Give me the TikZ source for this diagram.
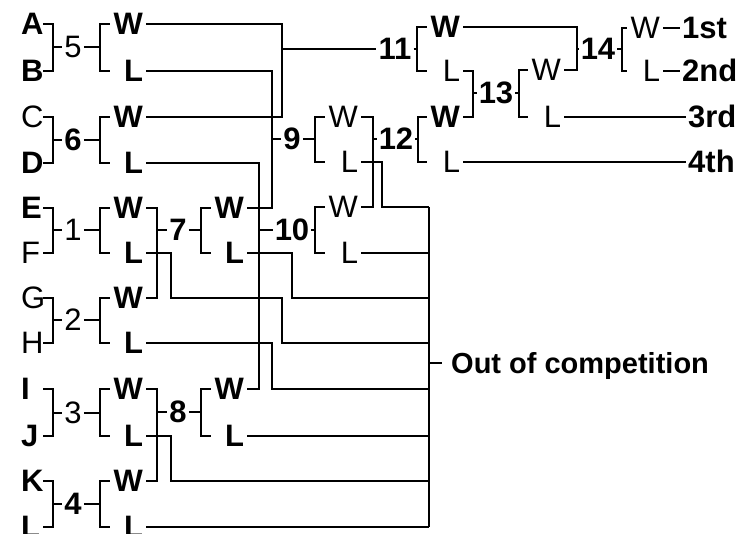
\documentclass[tikz,border=0pt]{standalone}
\usepackage{fontspec}
\setmainfont{Liberation Sans}
\usetikzlibrary{positioning,calc}
\tikzset{
  team/.style={
    anchor=west,
    text width=22pt,
    inner sep=0pt,
    text height=22pt,
    text depth=0pt,
    font=\fontsize{31}{33}\selectfont
  },
  teamb/.style={team, font=\fontsize{31}{33}\selectfont\bfseries},
  num/.style={
    inner sep=2pt,
    text height=22pt,
    text depth=0pt,
    font=\fontsize{31}{33}\selectfont
  },
  numb/.style={num, font=\fontsize{31}{33}\selectfont\bfseries},
  res/.style={
    text width=30pt,
    align=right,
    inner sep=3pt,
    text height=22pt,
    text depth=0pt,
    font=\fontsize{31}{33}\selectfont
  },
  resb/.style={res, font=\fontsize{31}{33}\selectfont\bfseries},
  rankbox/.style={
    anchor=west,
    inner sep=2pt,
    text height=22pt,
    text depth=0pt,
    font=\fontsize{31}{33}\selectfont\bfseries
  },
  wire/.style={line width=1.6pt}
}
\begin{document}
\begin{tikzpicture}[x=1pt, y=-1pt]
  \useasboundingbox (0,0) rectangle (748,534);

  \node[teamb] (tA) at (21,24) {A};
  \node[teamb] (tB) at (21,71) {B};
  \node[team] (tC) at (21,117) {C};
  \node[teamb] (tD) at (21,163) {D};
  \node[teamb] (tE) at (21,208) {E};
  \node[team] (tF) at (21,253) {F};
  \node[team] (tG) at (21,298) {G};
  \node[team] (tH) at (21,343) {H};
  \node[teamb] (tI) at (21,389) {I};
  \node[teamb] (tJ) at (21,436) {J};
  \node[teamb] (tK) at (21,481) {K};
  \node[teamb] (tL) at (21,527) {L};

  \node[num] (m5) at (73,47) {5};
  \node[numb] (m6) at (73,140) {6};
  \node[num] (m1) at (73,230) {1};
  \node[num] (m2) at (73,320) {2};
  \node[num] (m3) at (73,413) {3};
  \node[numb] (m4) at (73,504) {4};
  \node[numb] (m7) at (178,230) {7};
  \node[numb] (m8) at (178,412) {8};
  \node[numb] (m9) at (292,139) {9};
  \node[numb] (m10) at (292,230) {10};
  \node[numb] (m11) at (395,49) {11};
  \node[numb] (m12) at (396,139) {12};
  \node[numb] (m13) at (496,93) {13};
  \node[numb] (m14) at (598,49) {14};

  \node[resb] (w5) at (128,24) {W};
  \node[resb] (l5) at (128,71) {L};
  \node[resb] (w6) at (128,117) {W};
  \node[resb] (l6) at (128,163) {L};
  \node[resb] (w1) at (128,208) {W};
  \node[resb] (l1) at (128,253) {L};
  \node[resb] (w2) at (128,298) {W};
  \node[resb] (l2) at (128,343) {L};
  \node[resb] (w3) at (128,389) {W};
  \node[resb] (l3) at (128,436) {L};
  \node[resb] (w4) at (128,481) {W};
  \node[resb] (l4) at (128,527) {L};
  \node[resb] (w7) at (229,208) {W};
  \node[resb] (l7) at (229,253) {L};
  \node[resb] (w8) at (229,389) {W};
  \node[resb] (l8) at (229,436) {L};
  \node[res] (w9) at (343,117) {W};
  \node[res] (l9) at (343,162) {L};
  \node[res] (w10) at (343,207) {W};
  \node[res] (l10) at (343,253) {L};
  \node[resb] (w11) at (445,27) {W};
  \node[res] (l11) at (445,71) {L};
  \node[resb] (w12) at (445,117) {W};
  \node[res] (l12) at (445,162) {L};
  \node[res] (w13) at (546,70) {W};
  \node[res] (l13) at (546,117) {L};
  \node[res] (w14) at (645,28) {W};
  \node[res] (l14) at (645,71) {L};

  \node[rankbox] (p1) at (680,28) {1st};
  \node[rankbox] (p2) at (680,71) {2nd};
  \node[rankbox] (p3) at (686,117) {3rd};
  \node[rankbox] (p4) at (686,162) {4th};
  \node[rankbox, inner sep=9pt, font=\fontsize{29}{31}\selectfont\bfseries] (out) at (442,363) {Out of competition};

  \coordinate (j5) at (53,47);   \coordinate (k5) at (100,47);
  \coordinate (j6) at (53,140);  \coordinate (k6) at (100,140);
  \coordinate (j1) at (53,230);  \coordinate (k1) at (100,230);
  \coordinate (j2) at (53,320);  \coordinate (k2) at (100,320);
  \coordinate (j3) at (53,413);  \coordinate (k3) at (100,413);
  \coordinate (j4) at (53,504);  \coordinate (k4) at (100,504);
  \coordinate (j7) at (157,230); \coordinate (k7) at (201,230);
  \coordinate (j8) at (157,412); \coordinate (k8) at (201,412);
  \coordinate (j9) at (272,139); \coordinate (k9) at (315,139);
  \coordinate (j10) at (259,230); \coordinate (k10) at (315,230);
  \coordinate (j11) at (282,49); \coordinate (k11) at (417,49);
  \coordinate (j12) at (373,139); \coordinate (k12) at (418,139);
  \coordinate (j13) at (473,93); \coordinate (k13) at (519,93);
  \coordinate (j14) at (577,49); \coordinate (k14) at (622,49);
  \coordinate (bus) at (429,363);

  \draw[wire] (tA.east) -| (j5) |- (tB.east);
  \draw[wire] (tC.east) -| (j6) |- (tD.east);
  \draw[wire] (tE.east) -| (j1) |- (tF.east);
  \draw[wire] (tG.east) -| (j2) |- (tH.east);
  \draw[wire] (tI.east) -| (j3) |- (tJ.east);
  \draw[wire] (tK.east) -| (j4) |- (tL.east);
  \draw[wire] (w1.east) -| (j7) |- (w2.east);
  \draw[wire] (w3.east) -| (j8) |- (w4.east);
  \draw[wire] (l5.east) -| (j9) |- (w7.east);
  \draw[wire] (l6.east) -| (j10) |- (w8.east);
  \draw[wire] (w5.east) -| (j11) |- (w6.east);
  \draw[wire] (w9.east) -| (j12) |- (w10.east);
  \draw[wire] (l11.east) -| (j13) |- (w12.east);
  \draw[wire] (w11.east) -| (j14) |- (w13.east);

  \draw[wire] (j5) -- (m5) -- (k5);
  \draw[wire] (j6) -- (m6) -- (k6);
  \draw[wire] (j1) -- (m1) -- (k1);
  \draw[wire] (j2) -- (m2) -- (k2);
  \draw[wire] (j3) -- (m3) -- (k3);
  \draw[wire] (j4) -- (m4) -- (k4);
  \draw[wire] (j7) -- (m7) -- (k7);
  \draw[wire] (j8) -- (m8) -- (k8);
  \draw[wire] (j9) -- (m9) -- (k9);
  \draw[wire] (j10) -- (m10) -- (k10);
  \draw[wire] (j11) -- (m11) -- (k11);
  \draw[wire] (j12) -- (m12) -- (k12);
  \draw[wire] (j13) -- (m13) -- (k13);
  \draw[wire] (j14) -- (m14) -- (k14);

  \draw[wire] (w5.west) -| (k5) |- (l5.west);
  \draw[wire] (w6.west) -| (k6) |- (l6.west);
  \draw[wire] (w1.west) -| (k1) |- (l1.west);
  \draw[wire] (w2.west) -| (k2) |- (l2.west);
  \draw[wire] (w3.west) -| (k3) |- (l3.west);
  \draw[wire] (w4.west) -| (k4) |- (l4.west);
  \draw[wire] (w7.west) -| (k7) |- (l7.west);
  \draw[wire] (w8.west) -| (k8) |- (l8.west);
  \draw[wire] (w9.west) -| (k9) |- (l9.west);
  \draw[wire] (w10.west) -| (k10) |- (l10.west);
  \draw[wire] (w11.west) -| (k11) |- (l11.west);
  \draw[wire] (w12.west) -| (k12) |- (l12.west);
  \draw[wire] (w13.west) -| (k13) |- (l13.west);
  \draw[wire] (w14.west) -| (k14) |- (l14.west);

  \draw[wire] (w14.east) -- (p1.west);
  \draw[wire] (l14.east) -- (p2.west);
  \draw[wire] (l13.east) -- (p3.west);
  \draw[wire] (l12.east) -- (p4.west);

  \draw[wire] (l9.east) -- ++(21,0) |- (w10 -| bus);
  \draw[wire] (l10.east) -- (l10 -| bus);
  \draw[wire] (l7.east) -- ++(45,0) |- (tG -| bus);
  \draw[wire] (l1.east) -- ++(25,0) |- ++(111,45) |- (tH -| bus);
  \draw[wire] (l2.east) -- ++(126,0) |- (tI -| bus);
  \draw[wire] (l8.east) -- (l8 -| bus);
  \draw[wire] (l3.east) -- ++(25,0) |- (tK -| bus);
  \draw[wire] (l4.east) -- (l4 -| bus);
  \draw[wire] (w10 -| bus) -- (l4 -| bus);
  \draw[wire] (bus) -- (out);
\end{tikzpicture}
\end{document}
